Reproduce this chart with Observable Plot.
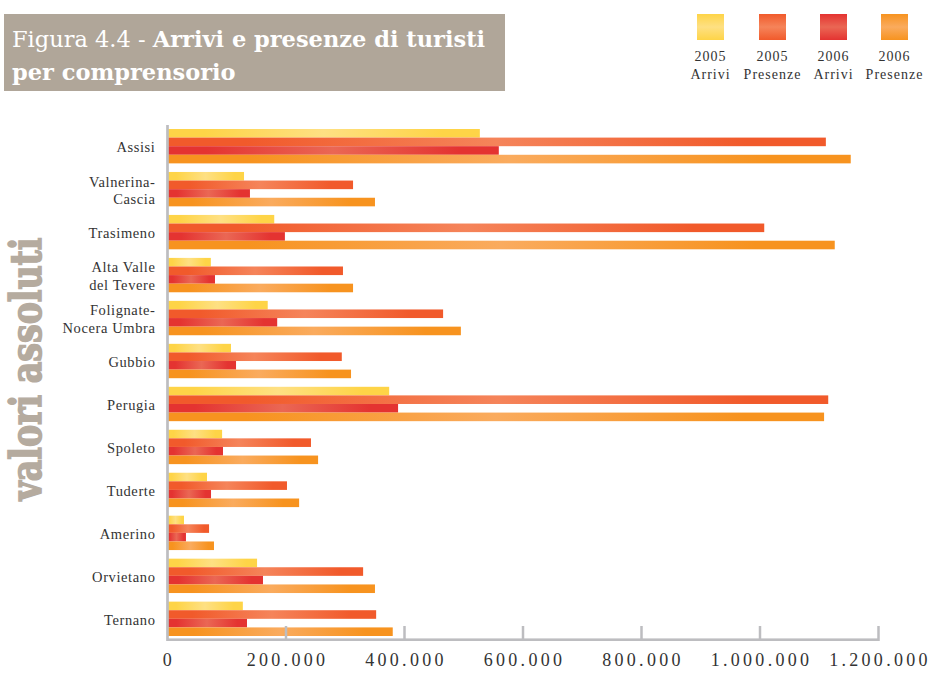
<!DOCTYPE html>
<html><head><meta charset="utf-8">
<script src="https://cdn.jsdelivr.net/npm/d3@7"></script>
<script src="https://cdn.jsdelivr.net/npm/@observablehq/plot@0.6"></script>
<style>
body{margin:0;background:#fff;}
#wrap{position:relative;width:930px;height:675px;overflow:hidden;}
#chart{position:absolute;left:0;top:0;}
#title{position:absolute;left:4px;top:14px;width:493px;height:68px;padding:9px 0 0 8px;background:#b0a699;color:#fff;font-family:"DejaVu Serif";font-size:22.5px;line-height:33px;white-space:nowrap;}
#title b{font-weight:bold;}
.leg{position:absolute;top:14px;width:80px;text-align:center;font-family:"Liberation Serif";font-size:14px;color:#333;letter-spacing:1px;}
.leg .sw{width:27px;height:26px;margin:0 auto;}
.leg .l1{margin-top:8px;line-height:18px;}
.leg .l2{line-height:18px;}
#ylab{position:absolute;left:0;top:0;}
</style>
</head><body>
<div id="wrap">
  <div id="chart"></div>
  <div id="title">Figura 4.4 - <b>Arrivi e presenze di turisti</b><br><b>per comprensorio</b></div>
  <svg id="ylab" width="60" height="675"></svg>
</div>
<script>
const categories = ["Assisi","Valnerina-\nCascia","Trasimeno","Alta Valle\ndel Tevere","Folignate-\nNocera Umbra","Gubbio","Perugia","Spoleto","Tuderte","Amerino","Orvietano","Ternano"];
const arrivi2005   = [528000, 130000, 181000, 74000, 170000, 108000, 375000, 93000, 67500, 28700, 152000, 128000];
const presenze2005 = [1112000, 314000, 1008000, 297000, 466000, 295000, 1116000, 243000, 202500, 71000, 331000, 353000];
const arrivi2006   = [560000, 140000, 199000, 81000, 186000, 116500, 390000, 94500, 74300, 32000, 162000, 135000];
const presenze2006 = [1154000, 351000, 1127000, 314000, 496000, 310600, 1109000, 255000, 223000, 79300, 351000, 381000];
const seriesYears = ["2005","2005","2006","2006"];
const seriesKinds = ["Arrivi","Presenze","Arrivi","Presenze"];
const xTicks = [0, 200000, 400000, 600000, 800000, 1000000, 1200000];
const yLabel = "valori assoluti";

// styles
const gradColors = [["#fed447","#fee083"],["#f15a2b","#f5845a"],["#e43331","#ea6754"],["#f7931f","#faab5e"]];
const axisGray = "#bdbdc0";

const seriesValues = [arrivi2005, presenze2005, arrivi2006, presenze2006];
const keys = [];
categories.forEach((c, i) => {
  seriesValues.forEach((_, j) => keys.push(c + "|" + j));
  if (i < categories.length - 1) keys.push(c + "|gap");
});
const rows = [];
categories.forEach((c, i) => seriesValues.forEach((arr, j) => rows.push({cat: c, s: j, key: c + "|" + j, value: arr[i]})));

const yTop = 129, yBottom = 636;
const band = (yBottom - yTop) / keys.length;
const fmt = d => d3.format(",")(d).replace(/,/g, ".");
const W = 930, H = 675, mT = 125, mB = 34;
const frameH = H - mT - mB;

const plot = Plot.plot({
  width: W, height: H,
  marginLeft: 167, marginRight: 52, marginTop: mT, marginBottom: mB,
  x: {domain: [0, 1200000], axis: null},
  y: {domain: keys, range: [yTop, yBottom], padding: 0, axis: null},
  style: {background: "transparent", color: "#333", fontFamily: "Liberation Serif", overflow: "visible"},
  marks: [
    ...seriesValues.map((_, j) => Plot.barX(rows.filter(r => r.s === j), {x: "value", y: "key", fill: `url(#grad${j})`})),
    Plot.ruleX([0], {stroke: axisGray, strokeWidth: 2.7}),
    Plot.ruleX(xTicks.slice(1), {x: d => d, stroke: axisGray, strokeWidth: 2.5, insetTop: frameH - 15}),
    Plot.barX([xTicks], {x1: d => d[0], x2: d => d[d.length - 1], fill: axisGray, insetTop: frameH - 2.6}),
    Plot.text(categories, {x: () => 0, y: d => d + "|1", text: d => d, dy: band / 2, dx: -12, textAnchor: "end", fontSize: 14.5, lineHeight: 1.2, fill: "#333"}),
    Plot.text(xTicks, {x: d => d, text: fmt, frameAnchor: "bottom", dy: 24, dx: 1.5, fontSize: 18, fill: "#333"})
  ]
});

const defs = d3.select(plot).insert("defs", ":first-child");
gradColors.forEach(([dark, light], j) => {
  const g = defs.append("linearGradient").attr("id", "grad" + j).attr("x1", 0).attr("x2", 1).attr("y1", 0).attr("y2", 0);
  [[0, dark], [0.12, dark], [0.5, light], [0.88, dark], [1, dark]].forEach(([o, c]) => g.append("stop").attr("offset", o).attr("stop-color", c));
});
const textGroups = d3.select(plot).selectAll('g[aria-label="text"]').nodes();
if (textGroups.length >= 2) {
  d3.select(textGroups[0]).style("letter-spacing", "0.6px");
  d3.select(textGroups[textGroups.length - 1]).style("letter-spacing", "3.3px");
}
document.getElementById("chart").appendChild(plot);

// legend
const legX = [710.5, 772.5, 833.5, 894.5];
const wrap = document.getElementById("wrap");
seriesYears.forEach((yr, j) => {
  const d = document.createElement("div");
  d.className = "leg";
  d.style.left = (legX[j] - 40) + "px";
  const [dark, light] = gradColors[j];
  d.innerHTML = `<div class="sw" style="background:linear-gradient(to bottom, ${dark} 0%, ${light} 50%, ${dark} 100%)"></div><div class="l1">${yr}</div><div class="l2">${seriesKinds[j]}</div>`;
  wrap.appendChild(d);
});

// y label
d3.select("#ylab").append("text")
  .attr("transform", "translate(41,369) rotate(-90)")
  .attr("text-anchor", "middle")
  .attr("font-family", "DejaVu Serif")
  .attr("font-weight", "bold")
  .attr("font-size", 42)
  .attr("fill", "#b5ab9f")
  .attr("stroke", "#b5ab9f")
  .attr("stroke-width", 1.6)
  .attr("textLength", 263)
  .attr("lengthAdjust", "spacingAndGlyphs")
  .text(yLabel);
</script>
</body></html>
